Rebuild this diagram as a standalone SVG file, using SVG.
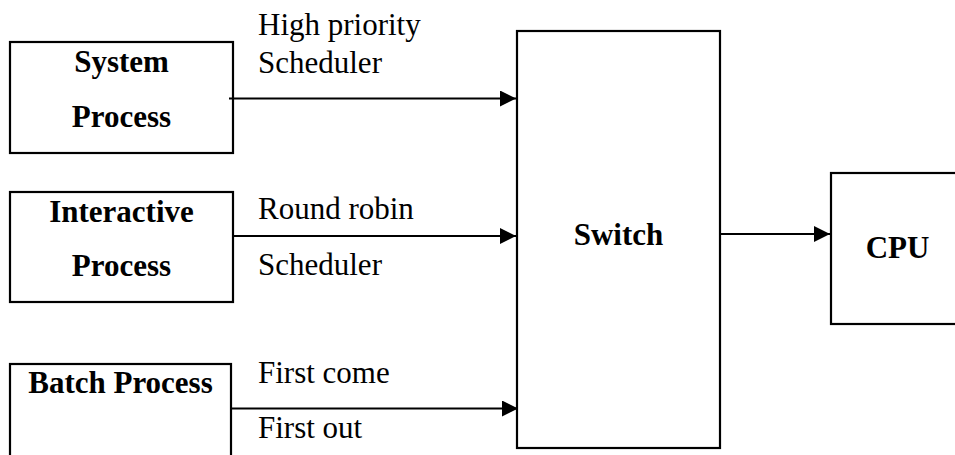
<svg xmlns="http://www.w3.org/2000/svg" width="955" height="455" viewBox="0 0 955 455">
  <style>
    .box { fill: #ffffff; stroke: #000000; stroke-width: 2.2; }
    .edge { stroke: #000000; stroke-width: 2.2; fill: none; }
    .title { font-family: "Liberation Serif", "Times New Roman", serif; font-size: 31px; font-weight: bold; fill: #000000; text-anchor: middle; }
    .label { font-family: "Liberation Serif", "Times New Roman", serif; font-size: 31px; fill: #000000; }
  </style>
  <defs>
    <marker id="arrow" markerUnits="userSpaceOnUse" markerWidth="17" markerHeight="16" refX="16" refY="8" orient="auto">
      <path d="M0,0 L16,8 L0,16 Z" fill="#000000"/>
    </marker>
  </defs>
  <rect width="955" height="455" fill="#ffffff"/>

  <g id="system-process">
    <rect class="box" x="10" y="42" width="223" height="111"/>
    <text class="title" x="121.5" y="72">System</text>
    <text class="title" x="121.5" y="127">Process</text>
  </g>

  <g id="interactive-process">
    <rect class="box" x="10" y="192" width="223" height="110"/>
    <text class="title" x="121.5" y="222">Interactive</text>
    <text class="title" x="121.5" y="276">Process</text>
  </g>

  <g id="batch-process">
    <rect class="box" x="10" y="364" width="221" height="110"/>
    <text class="title" x="120.5" y="393">Batch Process</text>
  </g>

  <g id="switch">
    <rect class="box" x="517" y="31" width="203" height="417"/>
    <text class="title" x="618.5" y="245">Switch</text>
  </g>

  <g id="cpu">
    <rect class="box" x="831" y="173" width="133" height="151"/>
    <text class="title" x="897.5" y="258">CPU</text>
  </g>

  <g id="connectors">
    <line class="edge" x1="229" y1="98.5" x2="516" y2="98.5" marker-end="url(#arrow)"/>
    <line class="edge" x1="233" y1="236" x2="516" y2="236" marker-end="url(#arrow)"/>
    <line class="edge" x1="231" y1="408.5" x2="518" y2="408.5" marker-end="url(#arrow)"/>
    <line class="edge" x1="720" y1="234" x2="830" y2="234" marker-end="url(#arrow)"/>
  </g>

  <g id="connector-labels">
    <text class="label" x="258" y="35">High priority</text>
    <text class="label" x="258" y="73">Scheduler</text>
    <text class="label" x="258" y="219">Round robin</text>
    <text class="label" x="258" y="275">Scheduler</text>
    <text class="label" x="258" y="383">First come</text>
    <text class="label" x="258" y="438">First out</text>
  </g>
</svg>
